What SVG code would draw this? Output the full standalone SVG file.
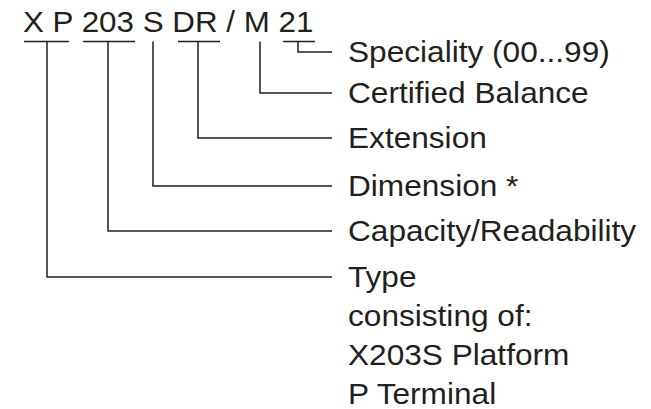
<svg xmlns="http://www.w3.org/2000/svg" width="651" height="409" viewBox="0 0 651 409">
  <style>
    .t { font-family: "Liberation Sans", Arial, Helvetica, sans-serif; font-size: 29px; fill: #231f20; }
    .ln { stroke: #231f20; stroke-width: 1.5; fill: none; }
  </style>
  <rect width="651" height="409" fill="#ffffff"/>
  <g id="code" transform="translate(23,0) scale(1.081,1)">
    <text class="t" x="0" y="32">X P 203 S DR / M 21</text>
  </g>
  <g id="connectors" class="ln">
    <path d="M24,41.5 H69 M83,41.5 H135 M178,41.5 H220 M283,41.5 H315"/>
    <path d="M298,41.5 V52 H332"/>
    <path d="M260,41.5 V93 H332"/>
    <path d="M198,41.5 V138 H332"/>
    <path d="M153,41.5 V186 H332"/>
    <path d="M108,41.5 V231 H332"/>
    <path d="M47,41.5 V277 H332"/>
  </g>
  <g id="label-speciality" transform="translate(348,0) scale(1.09,1)">
    <text class="t" x="0" y="62.5">Speciality (00...99)</text>
  </g>
  <g id="label-certified" transform="translate(348,0) scale(1.09,1)">
    <text class="t" x="0" y="103.5">Certified Balance</text>
  </g>
  <g id="label-extension" transform="translate(348,0) scale(1.09,1)">
    <text class="t" x="0" y="148.5">Extension</text>
  </g>
  <g id="label-dimension" transform="translate(348,0) scale(1.09,1)">
    <text class="t" x="0" y="196.5">Dimension *</text>
  </g>
  <g id="label-capacity" transform="translate(348,0) scale(1.09,1)">
    <text class="t" x="0" y="241.5">Capacity/Readability</text>
  </g>
  <g id="label-type" transform="translate(348,0) scale(1.09,1)">
    <text class="t" x="0" y="287.5">Type</text>
    <text class="t" x="0" y="326.5">consisting of:</text>
    <text class="t" x="0" y="365.5">X203S Platform</text>
    <text class="t" x="0" y="404">P Terminal</text>
  </g>
</svg>
